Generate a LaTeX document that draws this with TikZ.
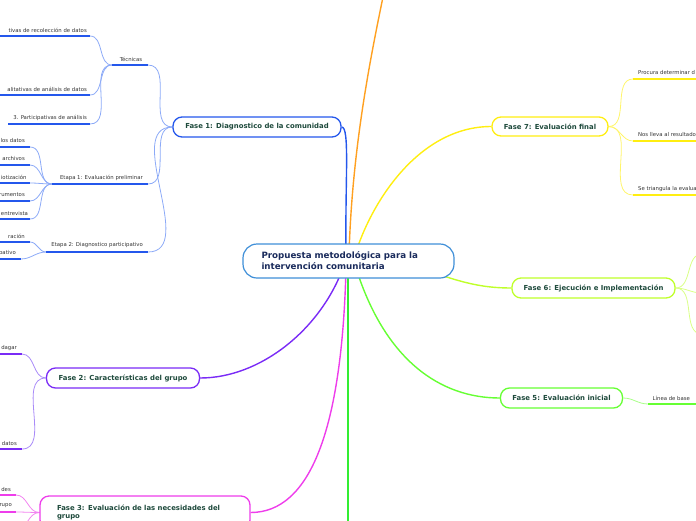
\documentclass[tikz,border=0pt]{standalone}
\usepackage{fontspec}
\setmainfont{DejaVu Sans}
\usetikzlibrary{backgrounds}
\definecolor{ctrB}{HTML}{3F8FD8}
\definecolor{navy}{HTML}{1A2B5C}
\definecolor{fasetxt}{HTML}{1E4A3C}
\definecolor{kidtxt}{HTML}{333333}
\definecolor{bB}{HTML}{2457EC}
\definecolor{bL}{HTML}{8CAAF7}
\definecolor{pB}{HTML}{7A2BF6}
\definecolor{pL}{HTML}{A98BF8}
\definecolor{mB}{HTML}{EE3DEB}
\definecolor{mL}{HTML}{F284F0}
\definecolor{yB}{HTML}{FFEE11}
\definecolor{yL}{HTML}{FFF56A}
\definecolor{lB}{HTML}{BFFF2A}
\definecolor{lL}{HTML}{D9FF86}
\definecolor{gB}{HTML}{66FF33}
\definecolor{gL}{HTML}{A8FF88}
\definecolor{vG}{HTML}{33EE33}
\definecolor{oR}{HTML}{FFA020}
\tikzset{
  centre/.style={draw=ctrB, fill=white, rounded corners=14pt, line width=1.2pt, inner sep=0pt,
    minimum width=211pt, minimum height=34pt, text width=174pt, align=left,
    font=\fontsize{8.7}{11}\selectfont\bfseries, text=navy},
  fase/.style={draw, fill=white, rounded corners=9pt, line width=1.3pt, inner sep=0pt,
    minimum height=20pt, font=\fontsize{6.9}{8.6}\selectfont\bfseries, text=fasetxt},
  kid/.style={inner sep=0pt, font=\fontsize{5.35}{6}\selectfont, text=kidtxt},
  branch/.style={line width=1.4pt},
  link/.style={line width=0.8pt},
  uline/.style={line width=2pt}
}
\begin{document}
\begin{tikzpicture}[x=1pt,y=-1pt]
\useasboundingbox (0,0) rectangle (696,520);
% ---------- main nodes
\node[centre] (ctr) at (348.5,261) {Propuesta metodológica para la\\intervención comunitaria};
\node[fase, draw=bB, minimum width=168pt] (f1) at (257,127) {Fase 1: Diagnostico de la comunidad};
\node[fase, draw=pB, minimum width=153pt] (f2) at (123,378) {Fase 2: Características del grupo};
\node[fase, draw=mB, minimum width=210pt, minimum height=33pt, text width=176pt, align=left, font=\fontsize{6.9}{8.4}\selectfont\bfseries] (f3) at (145,512.5) {Fase 3: Evaluación de las necesidades del\\grupo};
\node[fase, draw=gB, minimum width=122pt] (f5) at (561.5,398) {Fase 5: Evaluación inicial};
\node[fase, draw=lB, minimum width=163pt] (f6) at (593.5,288) {Fase 6: Ejecución e Implementación};
\node[fase, draw=yB, minimum width=116pt, minimum height=19pt] (f7) at (550,126.5) {Fase 7: Evaluación final};
% ---------- branch start points (inside centre node) and free ends
\coordinate (s1) at (346,255);
\coordinate (s2) at (343,268);
\coordinate (s3) at (346,268);
\coordinate (s4) at (349,255);
\coordinate (s5) at (356,268);
\coordinate (s6) at (420,268);
\coordinate (s7) at (355,255);
\coordinate (sv) at (348,268);
\coordinate (oEnd) at (383,-3);
\coordinate (vEnd) at (348,523);
% ---------- Fase 1 children
\coordinate (tecL) at (112,65);  \coordinate (tecR) at (148,65);
\node[kid] (tecT) at (131,59) {Técnicas};
\coordinate (e1L) at (52,184);   \coordinate (e1R) at (148,184);
\node[kid, anchor=east] (e1T) at (143,177.5) {Etapa 1: Evaluación preliminar};
\coordinate (e2L) at (46,252);   \coordinate (e2R) at (148,252);
\node[kid, anchor=east] (e2T) at (143,245.5) {Etapa 2: Diagnostico participativo};
% Técnicas children
\coordinate (t1L) at (-5,36);  \coordinate (t1R) at (90,36);
\node[kid, anchor=east] (t1T) at (87,30) {tivas de recolección de datos};
\coordinate (t2L) at (-5,95);  \coordinate (t2R) at (90,95);
\node[kid, anchor=east] (t2T) at (87,89) {alitativas de análisis de datos};
\coordinate (t3L) at (8,124);  \coordinate (t3R) at (90,124);
\node[kid, anchor=east] (t3T) at (87,118) {3. Participativas de análisis};
% Etapa 1 children
\coordinate (a1L) at (-5,147); \coordinate (a1R) at (30,147);
\node[kid, anchor=east] (a1T) at (25,141) {los datos};
\coordinate (a2L) at (-5,165); \coordinate (a2R) at (30,165);
\node[kid, anchor=east] (a2T) at (25,159) {archivos};
\coordinate (a3L) at (-5,183); \coordinate (a3R) at (30,183);
\node[kid, anchor=west] (a3T) at (0.8,177) {iotización};
\coordinate (a4L) at (-5,201); \coordinate (a4R) at (30,201);
\node[kid, anchor=east] (a4T) at (25,195) {rumentos};
\coordinate (a5L) at (-5,219); \coordinate (a5R) at (30,219);
\node[kid, anchor=west] (a5T) at (0.8,213) {entrevista};
% Etapa 2 children
\coordinate (b1L) at (-5,242); \coordinate (b1R) at (30,242);
\node[kid, anchor=east] (b1T) at (25,236) {ración};
\coordinate (b2L) at (-5,259); \coordinate (b2R) at (21,259);
\node[kid, anchor=east] (b2T) at (16,253.5) {pativo};
% Fase 2 children
\coordinate (p1L) at (-5,354); \coordinate (p1R) at (22,354);
\node[kid, anchor=east] (p1T) at (17,348) {dagar};
\coordinate (p2L) at (-5,449); \coordinate (p2R) at (22,449);
\node[kid, anchor=east] (p2T) at (17,443) {datos};
% Fase 3 children
\coordinate (m1L) at (-5,495); \coordinate (m1R) at (16,495);
\node[kid, anchor=east] (m1T) at (11,489) {des};
\coordinate (m2L) at (-5,512); \coordinate (m2R) at (16,512);
\node[kid, anchor=east] (m2T) at (12,506) {rupo};
\coordinate (m3R) at (16,530);
% Fase 7 children
\coordinate (y1L) at (633,79);  \coordinate (y1R) at (700,79);
\node[kid, anchor=west] (y1T) at (638,73) {Procura determinar d};
\coordinate (y2L) at (633,141); \coordinate (y2R) at (700,141);
\node[kid, anchor=west] (y2T) at (638,135) {Nos lleva al resultado};
\coordinate (y3L) at (633,195); \coordinate (y3R) at (700,195);
\node[kid, anchor=west] (y3T) at (638,189) {Se triangula la evalua};
% Fase 6 children (off canvas)
\coordinate (l1) at (702,254);
\coordinate (l2) at (702,293);
\coordinate (l3) at (702,334);
% Fase 5 child
\coordinate (g1L) at (648,404); \coordinate (g1R) at (700,404);
\node[kid, anchor=west] (g1T) at (652.5,398) {Línea de base};
% ---------- connectors (behind nodes)
\begin{pgfonlayer}{background}
\draw[branch, bB] (s1) .. controls (345,180) and (350,127) .. (f1.east);
\draw[branch, oR] (s4) .. controls (352,150) and (370,60) .. (oEnd);
\draw[branch, yB] (s7) .. controls (372,200) and (420,126.5) .. (f7.west);
\draw[branch, lB] (s6) .. controls (460,282) and (480,288) .. (f6.west);
\draw[branch, gB] (s5) .. controls (385,360) and (440,398) .. (f5.west);
\draw[branch, pB] (s2) .. controls (320,330) and (260,378) .. (f2.east);
\draw[branch, mB] (s3) .. controls (342,430) and (310,512.5) .. (f3.east);
\draw[branch, vG] (sv) -- (vEnd);
% Fase 1 links
\draw[link, bL] (f1.west) to[out=180,in=0] (tecR);
\draw[link, bL] (f1.west) to[out=180,in=0] (e1R);
\draw[link, bL] (f1.west) to[out=180,in=0] (e2R);
\draw[link, bL] (tecL) to[out=180,in=0] (t1R);
\draw[link, bL] (tecL) to[out=180,in=0] (t2R);
\draw[link, bL] (tecL) to[out=180,in=0] (t3R);
\draw[link, bL] (e1L) to[out=180,in=0] (a1R);
\draw[link, bL] (e1L) to[out=180,in=0] (a2R);
\draw[link, bL] (e1L) to[out=180,in=0] (a3R);
\draw[link, bL] (e1L) to[out=180,in=0] (a4R);
\draw[link, bL] (e1L) to[out=180,in=0] (a5R);
\draw[link, bL] (e2L) to[out=180,in=0] (b1R);
\draw[link, bL] (e2L) to[out=180,in=0] (b2R);
% underlines blue
\foreach \u in {tec,e1,e2,t1,t2,t3,a1,a2,a3,a4,a5,b1,b2}
  \draw[uline, bB] (\u L) -- (\u R);
% Fase 2
\draw[link, pL] (f2.west) to[out=180,in=0] (p1R);
\draw[link, pL] (f2.west) to[out=180,in=0] (p2R);
\foreach \u in {p1,p2} \draw[uline, pB] (\u L) -- (\u R);
% Fase 3
\draw[link, mL] (f3.west) to[out=180,in=0] (m1R);
\draw[link, mL] (f3.west) to[out=180,in=0] (m2R);
\draw[link, mL] (f3.west) to[out=180,in=0] (m3R);
\foreach \u in {m1,m2} \draw[uline, mB] (\u L) -- (\u R);
% Fase 7
\draw[link, yL] (f7.east) to[out=0,in=180] (y1L);
\draw[link, yL] (f7.east) to[out=0,in=180] (y2L);
\draw[link, yL] (f7.east) to[out=0,in=180] (y3L);
\foreach \u in {y1,y2,y3} \draw[uline, yB] (\u L) -- (\u R);
% Fase 6
\draw[link, lL] (f6.east) to[out=0,in=180] (l1);
\draw[link, lL] (f6.east) to[out=0,in=180] (l2);
\draw[link, lL] (f6.east) to[out=0,in=180] (l3);
% Fase 5
\draw[link, gL] (f5.east) to[out=0,in=180] (g1L);
\draw[uline, gB] (g1L) -- (g1R);
\end{pgfonlayer}
\end{tikzpicture}
\end{document}
